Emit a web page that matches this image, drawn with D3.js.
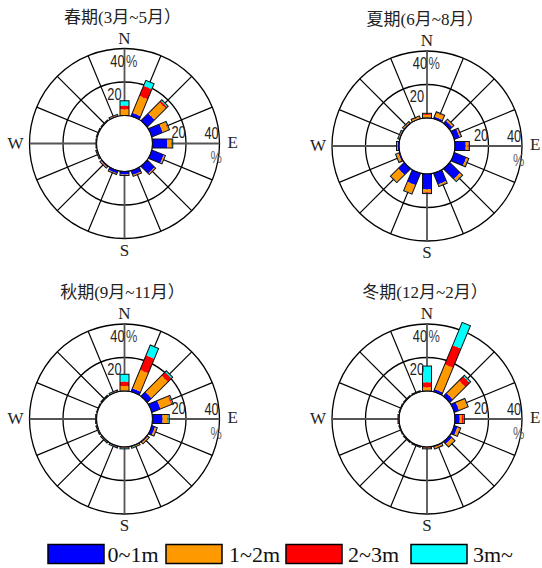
<!DOCTYPE html>
<html><head><meta charset="utf-8">
<script src="https://cdn.jsdelivr.net/npm/d3@7"></script>
<style>body{margin:0;background:#fff}</style>
</head><body>
<script>
// ---------- DATA ----------
const directions = ["N","NNE","NE","ENE","E","ESE","SE","SSE","S","SSW","SW","WSW","W","WNW","NW","NNW"];
const classes = ["0~1m","1~2m","2~3m","3m~"];
const classColors = ["#0000ff","#ff9900","#ff0000","#00ffff"];
const seasonTitles = ["春期(3月~5月）","夏期(6月~8月）","秋期(9月~11月）","冬期(12月~2月）"];
const ringTicks = [20, 40];

// spring (%), per speed class
const springC1 = [0.3, 2.0, 6.0, 7.0, 8.7, 7.5, 6.0, 2.6, 1.8, 1.5, 0.6, 0.3, 0.2, 0.2, 0.2, 0.3];
const springC2 = [3.4, 11.0, 9.5, 3.5, 2.6, 0.8, 0.7, 0.6, 0.4, 0.5, 0.5, 0.3, 0.1, 0.1, 0.1, 0.3];
const springC3 = [2.2, 6.5, 1.2, 0.4, 0.4, 0.1, 0.1, 0.1, 0.1, 0.1, 0.2, 0.1, 0.0, 0.0, 0.0, 0.1];
const springC4 = [2.9, 3.5, 0.8, 0.4, 0.4, 0.2, 0.1, 0.1, 0.1, 0.1, 0.1, 0.1, 0.0, 0.1, 0.1, 0.3];
// summer
const summerC1 = [0.3, 1.2, 2.0, 3.3, 6.4, 7.6, 8.6, 7.0, 9.2, 7.5, 5.0, 0.8, 0.8, 0.4, 0.4, 0.3];
const summerC2 = [1.6, 2.5, 1.0, 0.8, 1.2, 1.0, 1.5, 1.0, 1.7, 5.3, 6.0, 1.3, 0.3, 0.3, 0.4, 0.8];
const summerC3 = [0.7, 0.3, 0.1, 0.2, 0.6, 0.2, 0.2, 0.1, 0.4, 0.2, 0.2, 0.1, 0.1, 0.1, 0.2, 0.3];
const summerC4 = [0.2, 0.3, 0.2, 0.2, 0.4, 0.4, 0.4, 0.3, 0.4, 0.3, 0.3, 0.3, 0.3, 0.3, 0.3, 0.2];
// autumn
const autumnC1 = [0.2, 2.0, 3.5, 5.5, 6.0, 2.0, 0.5, 0.3, 0.3, 0.2, 0.2, 0.1, 0.1, 0.1, 0.1, 0.2];
const autumnC2 = [2.8, 12.0, 13.8, 7.0, 3.0, 1.0, 0.8, 0.4, 0.3, 0.3, 0.2, 0.2, 0.2, 0.1, 0.2, 0.3];
const autumnC3 = [2.6, 9.3, 2.9, 0.7, 0.5, 0.2, 0.1, 0.1, 0.1, 0.1, 0.1, 0.1, 0.0, 0.0, 0.1, 0.1];
const autumnC4 = [4.4, 6.7, 1.1, 0.5, 0.5, 0.2, 0.2, 0.3, 0.4, 0.3, 0.3, 0.3, 0.2, 0.1, 0.2, 0.3];
// winter
const winterC1 = [0.2, 1.5, 2.5, 3.0, 2.8, 2.0, 1.8, 0.5, 0.1, 0.1, 0.1, 0.1, 0.1, 0.1, 0.1, 0.1];
const winterC2 = [2.0, 16.0, 10.5, 5.3, 1.3, 1.5, 2.0, 0.8, 0.3, 0.2, 0.2, 0.1, 0.1, 0.1, 0.1, 0.2];
const winterC3 = [3.0, 12.4, 3.6, 0.1, 1.1, 0.2, 0.2, 0.2, 0.5, 0.1, 0.1, 0.1, 0.3, 0.1, 0.1, 0.1];
const winterC4 = [9.7, 14.7, 0.9, 0.4, 0.4, 0.3, 0.3, 0.1, 0.2, 0.1, 0.1, 0.1, 0.1, 0.1, 0.1, 0.1];

const seasonData = [
  [springC1, springC2, springC3, springC4],
  [summerC1, summerC2, summerC3, summerC4],
  [autumnC1, autumnC2, autumnC3, autumnC4],
  [winterC1, winterC2, winterC3, winterC4]
];

// ---------- LAYOUT ----------
const W = 542, H = 568;
const panelPos = [{cx:124.5, cy:143.5},{cx:427, cy:146},{cx:124.5, cy:419},{cx:427, cy:419}];
const serif = "'Liberation Serif','Times New Roman',serif";
const cjk = "'Liberation Serif','Noto Sans CJK SC','Noto Sans CJK JP',serif";
const narrow = "'Liberation Sans Narrow','Arial Narrow','Liberation Sans',sans-serif";

const svg = d3.select("body").append("svg").attr("width", W).attr("height", H);
svg.append("rect").attr("width", W).attr("height", H).attr("fill", "#fff");

const r = d3.scaleLinear().domain([0, 40]).range([28, 95]);
const ang = d3.scaleBand().domain(directions).range([0, 360]);
const color = d3.scaleOrdinal().domain(classes).range(classColors);
const barW = 9;

seasonData.forEach((series, si) => {
  const {cx, cy} = panelPos[si];
  const g = svg.append("g").attr("transform", `translate(${cx},${cy})`);
  const rows = directions.map((d, i) => {
    const o = {dir: d};
    classes.forEach((c, k) => o[c] = series[k][i]);
    return o;
  });
  const stacked = d3.stack().keys(classes)(rows);

  // title
  g.append("text").attr("x", -2).attr("y", -121).attr("text-anchor", "middle")
    .attr("font-family", cjk).attr("font-size", 17).attr("fill", "#222")
    .text(seasonTitles[si]);

  // rings
  g.selectAll("circle.ring").data(ringTicks).join("circle").attr("class", "ring")
    .attr("r", d => r(d)).attr("fill", "none").attr("stroke", "#000").attr("stroke-width", 1.3);

  // radial lines (non-cardinal)
  g.selectAll("line.rad").data(directions.filter((d, i) => i % 4 !== 0)).join("line").attr("class", "rad")
    .attr("x1", 0).attr("y1", -r(0)).attr("x2", 0).attr("y2", -r(40))
    .attr("transform", d => `rotate(${ang(d)})`)
    .attr("stroke", "#000").attr("stroke-width", 1.2);
  // cardinal axes
  g.selectAll("line.axis").data([directions[0], directions[4]]).join("line").attr("class", "axis")
    .attr("x1", 0).attr("y1", -r(40)).attr("x2", 0).attr("y2", r(40))
    .attr("transform", d => `rotate(${ang(d)})`)
    .attr("stroke", "#555").attr("stroke-width", 1.8);

  // inner circle
  g.append("circle").attr("r", r(0)).attr("fill", "#fff").attr("stroke", "#000").attr("stroke-width", 1.2);

  // bars
  stacked.forEach(layer => {
    g.append("g").selectAll("rect").data(layer).join("rect")
      .attr("x", -barW / 2).attr("width", barW)
      .attr("y", d => -r(d[1])).attr("height", d => Math.max(0, r(d[1]) - r(d[0])))
      .attr("transform", d => `rotate(${ang(d.data.dir)})`)
      .attr("fill", color(layer.key));
  });
  const top = stacked[stacked.length - 1];
  g.append("g").selectAll("rect").data(top).join("rect")
    .attr("x", -barW / 2).attr("width", barW)
    .attr("y", d => -r(d[1])).attr("height", d => Math.max(0.3, r(d[1]) - r(0)))
    .attr("transform", d => `rotate(${ang(d.data.dir)})`)
    .attr("fill", "none").attr("stroke", "#111").attr("stroke-width", 1);

  // direction labels
  const lab = (t, x, y, anchor) => g.append("text").attr("x", x).attr("y", y)
    .attr("text-anchor", anchor).attr("font-family", serif).attr("font-size", 17).attr("fill", "#222").text(t);
  lab("N", 0, -100, "middle");
  lab("S", 0, 112, "middle");
  lab("E", 103, 4, "start");
  lab("W", -101, 5, "end");

  // ring value labels (condensed)
  const num = (t, x, y, anchor, fill) => g.append("text")
    .attr("transform", `translate(${x},${y}) scale(0.8,1)`)
    .attr("text-anchor", anchor).attr("font-family", narrow).attr("font-size", 16)
    .attr("fill", fill || "#222").text(t);
  num(String(ringTicks[1]), 0, -77, "end");
  num("%", 1.5, -77, "start", "#444");
  num(String(ringTicks[0]), -3, -44, "end");
  num(String(ringTicks[0]), 47, -5.3, "start");
  num(String(ringTicks[1]), 80, -4.5, "start");
  num("%", 86, 19.5, "start", "#666");
});

// ---------- LEGEND ----------
const legBoxX = [48, 166, 286, 411];
const legTextX = [107.5, 229, 348, 473];
const leg = svg.append("g");
classes.forEach((c, i) => {
  leg.append("rect").attr("x", legBoxX[i]).attr("y", 544.5).attr("width", 56).attr("height", 19)
    .attr("fill", color(c)).attr("stroke", "#000").attr("stroke-width", 1.5);
  leg.append("text").attr("x", legTextX[i]).attr("y", 562)
    .attr("font-family", serif).attr("font-size", 22).attr("fill", "#111").text(c);
});
</script>
</body></html>
